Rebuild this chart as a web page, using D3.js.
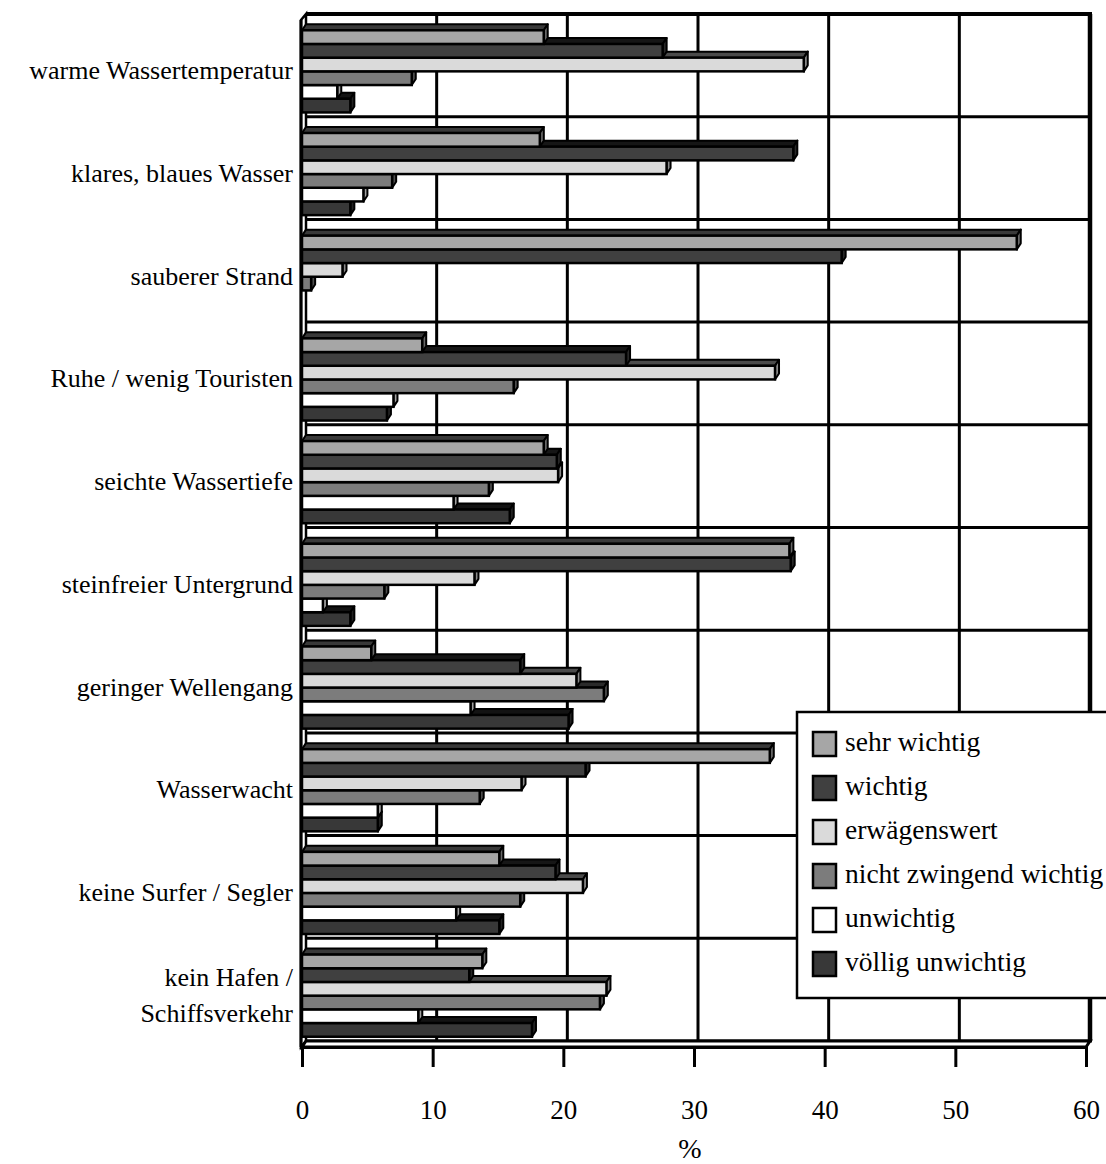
<!DOCTYPE html>
<html>
<head>
<meta charset="UTF-8">
<script src="https://d3js.org/d3.v7.min.js"></script>
<title>Wichtigkeit Badeort</title>
<style>
  body { margin: 0; background: #fff; }
  text { font-family: "Liberation Serif", "Times New Roman", serif; fill: #000; }
</style>
</head>
<body>
<div id="container"></div>
<script>
// Kategorien (Zeilenumbruch mit \n)
var categories = ["warme Wassertemperatur", "klares, blaues Wasser", "sauberer Strand",
  "Ruhe / wenig Touristen", "seichte Wassertiefe", "steinfreier Untergrund",
  "geringer Wellengang", "Wasserwacht", "keine Surfer / Segler", "kein Hafen /\nSchiffsverkehr"];

var seriesNames = ["sehr wichtig", "wichtig", "erwägenswert", "nicht zwingend wichtig", "unwichtig", "völlig unwichtig"];
var seriesColors = ["#a6a6a6", "#404040", "#dadada", "#7c7c7c", "#ffffff", "#383838"];

// Werte in %
var sehrWichtig      = [18.5, 18.2, 54.7, 9.2, 18.5, 37.3, 5.3, 35.8, 15.1, 13.8];
var wichtig          = [27.6, 37.6, 41.3, 24.8, 19.5, 37.4, 16.7, 21.7, 19.4, 12.8];
var erwaegenswert    = [38.4, 27.9, 3.1, 36.2, 19.6, 13.2, 21.0, 16.8, 21.5, 23.3];
var nichtZwingend    = [8.4, 6.9, 0.7, 16.2, 14.3, 6.3, 23.1, 13.6, 16.7, 22.8];
var unwichtig        = [2.7, 4.7, 0, 7.0, 11.6, 1.6, 12.9, 5.8, 11.8, 8.9];
var voelligUnwichtig = [3.7, 3.7, 0, 6.5, 15.9, 3.7, 20.4, 5.8, 15.1, 17.6];
var values = [sehrWichtig, wichtig, erwaegenswert, nichtZwingend, unwichtig, voelligUnwichtig];

var xTicks = [0, 10, 20, 30, 40, 50, 60];

var width = 1106, height = 1164;
var dx = 4, dy = -6; // 3D Tiefe
var pLeft = 302, pRight = 1086, pTop = 20, pBottom = 1047;

var svg = d3.select("#container").append("svg")
  .attr("width", width).attr("height", height);

var x = d3.scaleLinear().domain([0, 60]).range([pLeft, pRight]);
var y = d3.scaleBand().domain(categories).range([pTop, pBottom]);
var ySeries = d3.scaleBand().domain(seriesNames).range([0, y.bandwidth()]).paddingOuter(0.75);

function poly(pts) { return "M" + pts.map(function(p){ return p.join(","); }).join("L") + "Z"; }

// Rückwand Gitter
var wall = svg.append("g");
wall.selectAll(".vgrid").data(xTicks.slice(1)).enter().append("line")
  .attr("x1", function(d){ return x(d) + dx; }).attr("x2", function(d){ return x(d) + dx; })
  .attr("y1", pTop + dy).attr("y2", pBottom + dy)
  .attr("stroke", "#000").attr("stroke-width", function(d){ return d === 60 ? 4.5 : 3; });
var hLines = categories.map(function(c){ return y(c); }).concat([pBottom]);
wall.selectAll(".hgrid").data(hLines).enter().append("line")
  .attr("x1", pLeft + dx).attr("x2", pRight + dx + 2)
  .attr("y1", function(d){ return d + dy; }).attr("y2", function(d){ return d + dy; })
  .attr("stroke", "#000").attr("stroke-width", function(d, i){ return i === 0 ? 4 : 3; });

// linke Wand
wall.append("path")
  .attr("d", poly([[pLeft - 1, pTop], [pLeft + dx, pTop + dy], [pLeft + dx, pBottom + dy], [pLeft - 1, pBottom]]))
  .attr("fill", "#fff").attr("stroke", "#000").attr("stroke-width", 2.5);
// Boden
wall.append("path")
  .attr("d", poly([[pLeft, pBottom], [pRight, pBottom], [pRight + dx, pBottom + dy], [pLeft + dx, pBottom + dy]]))
  .attr("fill", "#fff").attr("stroke", "#000").attr("stroke-width", 3);

// Balken
var barData = [];
categories.forEach(function(c, ci) {
  for (var si = seriesNames.length - 1; si >= 0; si--) {
    barData.push({cat: c, s: si, v: values[si][ci]});
  }
});
barData = barData.filter(function(d){ return d.v > 0; });

var bars = svg.append("g").selectAll("g").data(barData).enter().append("g");
var h = ySeries.bandwidth();
function y0(d) { return y(d.cat) + ySeries(seriesNames[d.s]); }

bars.append("path") // Oberseite
  .attr("d", function(d){
    var yy = y0(d), x1 = x(d.v);
    return poly([[pLeft, yy], [x1, yy], [x1 + dx, yy + dy], [pLeft + dx, yy + dy]]);
  })
  .attr("fill", function(d){ return d3.color(seriesColors[d.s]).darker(3); })
  .attr("stroke", "#000").attr("stroke-width", 2).attr("stroke-linejoin", "round");
bars.append("path") // Seite
  .attr("d", function(d){
    var yy = y0(d), x1 = x(d.v);
    return poly([[x1, yy], [x1 + dx, yy + dy], [x1 + dx, yy + h + dy], [x1, yy + h]]);
  })
  .attr("fill", function(d){ return d3.color(seriesColors[d.s]).darker(1.3); })
  .attr("stroke", "#000").attr("stroke-width", 2).attr("stroke-linejoin", "round");
bars.append("rect") // Vorderseite
  .attr("x", pLeft).attr("y", y0)
  .attr("width", function(d){ return x(d.v) - pLeft; })
  .attr("height", h)
  .attr("fill", function(d){ return seriesColors[d.s]; })
  .attr("stroke", "#000").attr("stroke-width", 2.5);

// x-Achse
var xAxis = d3.axisBottom(x).tickValues(xTicks).tickSize(20).tickSizeOuter(0);
var ax = svg.append("g").attr("transform", "translate(0," + pBottom + ")").call(xAxis);
ax.select(".domain").attr("stroke", "#000").attr("stroke-width", 3);
ax.selectAll(".tick line").attr("stroke", "#000").attr("stroke-width", 3);
ax.selectAll(".tick text")
  .attr("y", 63).attr("dy", "0.35em")
  .style("font-family", "'Liberation Serif', 'Times New Roman', serif")
  .style("font-size", "27px").attr("fill", "#000");

// linke Achsenlinie
svg.append("line").attr("x1", pLeft - 1).attr("x2", pLeft - 1)
  .attr("y1", pTop).attr("y2", pBottom)
  .attr("stroke", "#000").attr("stroke-width", 3);

svg.append("text").attr("x", 690).attr("y", 1152).attr("text-anchor", "middle")
  .attr("dominant-baseline", "middle").style("font-size", "28px").text("%");

// Kategorie-Beschriftungen
var lab = svg.append("g").selectAll("text").data(categories).enter().append("text")
  .attr("text-anchor", "end").style("font-size", "26px")
  .attr("x", 293);
lab.each(function(c) {
  var lines = c.split("\n");
  var cy = y(c) + y.bandwidth() / 2 + 2;
  var t = d3.select(this);
  lines.forEach(function(l, i) {
    t.append("tspan").attr("x", 293)
      .attr("y", cy + (i - (lines.length - 1) / 2) * 36)
      .attr("dominant-baseline", "middle")
      .text(l);
  });
});

// Legende
var lg = svg.append("g").attr("transform", "translate(797,712)");
lg.append("rect").attr("width", 330).attr("height", 286)
  .attr("fill", "#fff").attr("stroke", "#000").attr("stroke-width", 2.5);
var item = lg.selectAll(".item").data(seriesNames).enter().append("g")
  .attr("transform", function(d, i){ return "translate(0," + (32 + i * 44) + ")"; });
item.append("rect").attr("x", 16).attr("y", -12).attr("width", 23).attr("height", 24)
  .attr("fill", function(d, i){ return seriesColors[i]; })
  .attr("stroke", "#000").attr("stroke-width", 2.5);
item.append("text").attr("x", 48).attr("y", 1).attr("dominant-baseline", "middle")
  .style("font-size", "27.5px").text(function(d){ return d; });
</script>
</body>
</html>
